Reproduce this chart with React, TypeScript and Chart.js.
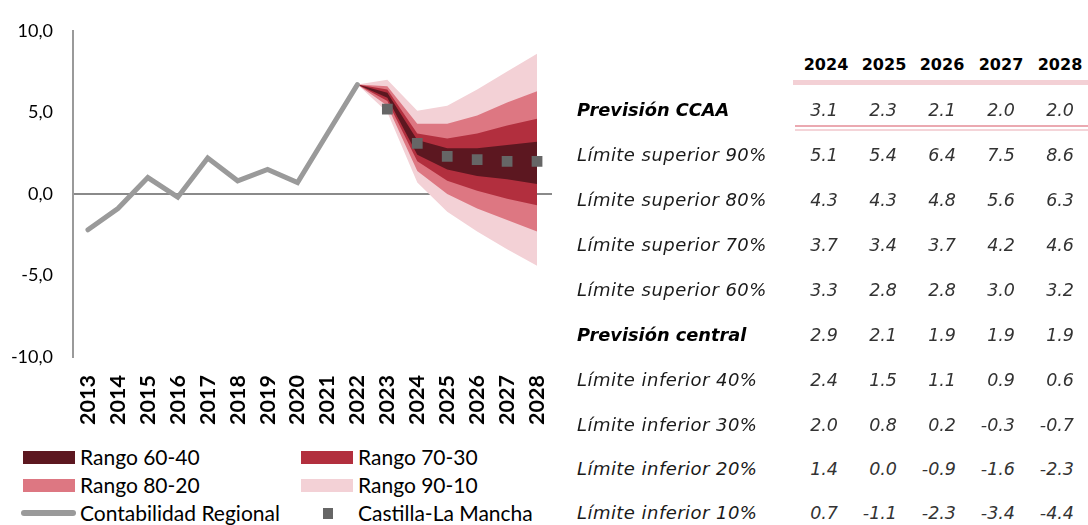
import React, { useEffect, useRef } from 'react';
import { Chart, registerables } from 'chart.js';

Chart.register(...registerables);

// ---- Data ----
const years = ['2013', '2014', '2015', '2016', '2017', '2018', '2019', '2020', '2021', '2022', '2023', '2024', '2025', '2026', '2027', '2028'];

const contabilidadRegional = [-2.2, -0.9, 1.0, -0.2, 2.2, 0.8, 1.5, 0.7, 3.7, 6.7, null, null, null, null, null, null];
const castillaLaMancha = [null, null, null, null, null, null, null, null, null, null, 5.2, 3.1, 2.3, 2.1, 2.0, 2.0];
const prevCentral = [null, null, null, null, null, null, null, null, null, null, null, 2.9, 2.1, 1.9, 1.9, 1.9];

const sup90 = [null, null, null, null, null, null, null, null, null, 6.7, 7.0, 5.1, 5.4, 6.4, 7.5, 8.6];
const sup80 = [null, null, null, null, null, null, null, null, null, 6.7, 6.6, 4.3, 4.3, 4.8, 5.6, 6.3];
const sup70 = [null, null, null, null, null, null, null, null, null, 6.7, 6.4, 3.7, 3.4, 3.7, 4.2, 4.6];
const sup60 = [null, null, null, null, null, null, null, null, null, 6.7, 6.2, 3.3, 2.8, 2.8, 3.0, 3.2];
const inf40 = [null, null, null, null, null, null, null, null, null, 6.7, 5.9, 2.4, 1.5, 1.1, 0.9, 0.6];
const inf30 = [null, null, null, null, null, null, null, null, null, 6.7, 5.7, 2.0, 0.8, 0.2, -0.3, -0.7];
const inf20 = [null, null, null, null, null, null, null, null, null, 6.7, 5.4, 1.4, 0.0, -0.9, -1.6, -2.3];
const inf10 = [null, null, null, null, null, null, null, null, null, 6.7, 5.0, 0.7, -1.1, -2.3, -3.4, -4.4];

const tableYears = ['2024', '2025', '2026', '2027', '2028'];
const yTicks = [-10, -5, 0, 5, 10];

const C60 = '#5C1720';
const C70 = '#B22F3E';
const C80 = '#DD7782';
const C90 = '#F3D1D6';

const tableStart = years.indexOf(tableYears[0]);
const tableRows: { label: string; bold: boolean; values: (number | null)[] }[] = [
  { label: 'Previsión CCAA', bold: true, values: castillaLaMancha },
  { label: 'Límite superior 90%', bold: false, values: sup90 },
  { label: 'Límite superior 80%', bold: false, values: sup80 },
  { label: 'Límite superior 70%', bold: false, values: sup70 },
  { label: 'Límite superior 60%', bold: false, values: sup60 },
  { label: 'Previsión central', bold: true, values: prevCentral },
  { label: 'Límite inferior 40%', bold: false, values: inf40 },
  { label: 'Límite inferior 30%', bold: false, values: inf30 },
  { label: 'Límite inferior 20%', bold: false, values: inf20 },
  { label: 'Límite inferior 10%', bold: false, values: inf10 },
];

const CANVAS_W = 580;
const CANVAS_H = 432;

const band = (data: (number | null)[], color: string, fillTarget: number | false) => ({
  data,
  borderColor: 'rgba(0,0,0,0)',
  borderWidth: 0,
  backgroundColor: color,
  pointRadius: 0,
  fill: fillTarget === false ? false : fillTarget,
  order: 2,
});

export default function App() {
  const ref = useRef<HTMLCanvasElement>(null);

  useEffect(() => {
    const chart = new Chart(ref.current as HTMLCanvasElement, {
      type: 'line',
      data: {
        labels: years,
        datasets: [
          band(sup60, C60, 1) as any,
          band(inf40, C60, false),
          band(sup70, C70, 3),
          band(inf30, C70, false),
          band(sup80, C80, 5),
          band(inf20, C80, false),
          band(sup90, C90, 7),
          band(inf10, C90, false),
          {
            data: contabilidadRegional,
            borderColor: '#9A9A9A',
            borderWidth: 5,
            borderCapStyle: 'round',
            pointRadius: 0,
            fill: false,
            order: 1,
          },
          {
            data: castillaLaMancha,
            showLine: false,
            pointStyle: 'rect',
            pointRadius: 7.6,
            pointBackgroundColor: '#666666',
            pointBorderWidth: 0,
            pointBorderColor: '#666666',
            fill: false,
            order: 0,
          },
        ],
      },
      options: {
        responsive: false,
        animation: false,
        layout: { padding: { top: 27, right: CANVAS_W - 552, bottom: 0, left: 0 } },
        plugins: { legend: { display: false }, tooltip: { enabled: false } },
        scales: {
          x: {
            type: 'category',
            offset: true,
            grid: { display: false },
            border: { display: false },
            ticks: {
              autoSkip: false,
              maxRotation: 90,
              minRotation: 90,
              padding: 10,
              color: '#000',
              font: { family: 'Lato', size: 21.5, weight: 'bold' },
            },
            afterFit: (s: any) => {
              s.height = CANVAS_H - 357;
            },
          },
          y: {
            min: yTicks[0],
            max: yTicks[yTicks.length - 1],
            afterBuildTicks: (s: any) => {
              s.ticks = yTicks.map((v) => ({ value: v }));
            },
            ticks: {
              padding: 20,
              color: '#000',
              font: { family: 'Lato', size: 18 },
              callback: (v: any) => Number(v).toFixed(1).replace('.', ','),
            },
            grid: {
              drawTicks: false,
              lineWidth: 2,
              color: (ctx: any) => (ctx.tick && ctx.tick.value === 0 ? '#8A8A8A' : 'rgba(0,0,0,0)'),
            },
            border: { display: true, color: '#9A9A9A', width: 2 },
            afterFit: (s: any) => {
              s.width = 73;
            },
          },
        },
      },
    });
    return () => chart.destroy();
  }, []);

  const legendFont = { fontFamily: 'Lato', fontSize: 21, color: '#000', lineHeight: '24px' };
  const legendItems = [
    { label: 'Rango 60-40', color: C60, x: 23, y: 457, kind: 'band' },
    { label: 'Rango 70-30', color: C70, x: 301, y: 457, kind: 'band' },
    { label: 'Rango 80-20', color: C80, x: 23, y: 485, kind: 'band' },
    { label: 'Rango 90-10', color: C90, x: 301, y: 485, kind: 'band' },
    { label: 'Contabilidad Regional', color: '#9A9A9A', x: 23, y: 513, kind: 'line' },
    { label: 'Castilla-La Mancha', color: '#666666', x: 301, y: 513, kind: 'marker' },
  ];

  const rowY = [110, 155, 200, 245, 290, 335, 380, 425, 469, 513];
  const colRight = [838, 897, 956, 1015, 1074];
  const colCenter = [826, 884, 942, 1001, 1060];

  return (
    <div style={{ position: 'absolute', left: 0, top: 0, width: 1088, height: 525, background: '#fff', overflow: 'hidden' }}>
      <canvas ref={ref} width={CANVAS_W} height={CANVAS_H} style={{ position: 'absolute', left: 0, top: 0, width: CANVAS_W, height: CANVAS_H }} />

      {legendItems.map((it) => (
        <div key={it.label}>
          {it.kind === 'band' && (
            <div style={{ position: 'absolute', left: it.x, top: it.y - 6.5, width: 52, height: 13, background: it.color }} />
          )}
          {it.kind === 'line' && (
            <div style={{ position: 'absolute', left: it.x - 2, top: it.y - 3, width: 55, height: 6, borderRadius: 3, background: it.color }} />
          )}
          {it.kind === 'marker' && (
            <div style={{ position: 'absolute', left: it.x + 22, top: it.y - 5, width: 10, height: 11, background: it.color }} />
          )}
          <div style={{ position: 'absolute', left: it.x + 57, top: it.y - 12, whiteSpace: 'nowrap', ...legendFont }}>{it.label}</div>
        </div>
      ))}

      {/* Table */}
      {tableYears.map((y, i) => (
        <div
          key={y}
          style={{
            position: 'absolute',
            left: colCenter[i] - 30,
            width: 60,
            top: 65 - 12,
            lineHeight: '24px',
            textAlign: 'center',
            fontFamily: 'DejaVu Sans',
            fontWeight: 'bold',
            fontSize: 16,
            color: '#000',
          }}
        >
          {y}
        </div>
      ))}
      <div style={{ position: 'absolute', left: 793, top: 80, width: 295, height: 4.5, background: '#F3D0D5' }} />
      <div style={{ position: 'absolute', left: 795, top: 125, width: 293, height: 2, background: '#EBA9B1' }} />
      <div style={{ position: 'absolute', left: 795, top: 128.5, width: 293, height: 2.2, background: '#F4D4D8' }} />

      {tableRows.map((row, r) => (
        <div key={row.label}>
          <div
            style={{
              position: 'absolute',
              left: 577,
              top: rowY[r] - 12,
              lineHeight: '24px',
              whiteSpace: 'nowrap',
              fontFamily: 'DejaVu Sans',
              fontStyle: 'italic',
              fontWeight: row.bold ? 'bold' : 'normal',
              fontSize: row.bold ? 17.8 : 18,
              letterSpacing: row.bold ? 0 : 0.45,
              color: row.bold ? '#000' : '#1a1a1a',
            }}
          >
            {row.label}
          </div>
          {row.values.slice(tableStart, tableStart + tableYears.length).map((v, c) => (
            <div
              key={c}
              style={{
                position: 'absolute',
                left: colRight[c] - 56,
                width: 56,
                top: rowY[r] - 12,
                lineHeight: '24px',
                textAlign: 'right',
                whiteSpace: 'nowrap',
                fontFamily: 'DejaVu Sans',
                fontStyle: 'italic',
                fontSize: 17.5,
                color: '#333',
              }}
            >
              {v === null ? '' : v.toFixed(1)}
            </div>
          ))}
        </div>
      ))}
    </div>
  );
}
